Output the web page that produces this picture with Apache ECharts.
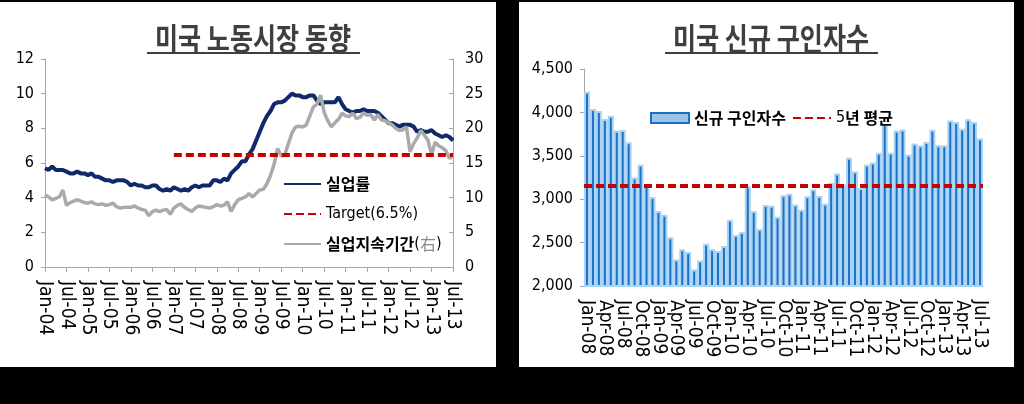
<!DOCTYPE html>
<html>
<head>
<meta charset="utf-8">
<script src="https://cdn.jsdelivr.net/npm/echarts@6/dist/echarts.min.js"></script>
<style>
html,body{margin:0;padding:0;background:#000;width:1024px;height:404px;overflow:hidden;}
#c1{position:absolute;left:0;top:2px;width:496px;height:365px;background:#fff;}
#c2{position:absolute;left:519px;top:2px;width:495px;height:365px;background:#fff;}
</style>
</head>
<body>
<div id="c1"></div>
<div id="c2"></div>
<script>
// ---------- data: left chart (monthly, Jan-04 .. Jul-13) ----------
const monthNames = ['Jan','Feb','Mar','Apr','May','Jun','Jul','Aug','Sep','Oct','Nov','Dec'];
const leftYears = ['04','05','06','07','08','09','10','11','12','13'];
const leftMonthsInLastYear = 7;
const unempRate = [
  5.7,5.6,5.8,5.6,5.6,5.6,5.5,5.4,5.4,5.5,5.4,5.4,
  5.3,5.4,5.2,5.2,5.1,5.0,5.0,4.9,5.0,5.0,5.0,4.9,
  4.7,4.8,4.7,4.7,4.6,4.6,4.7,4.7,4.5,4.4,4.5,4.4,
  4.6,4.5,4.4,4.5,4.4,4.6,4.7,4.6,4.7,4.7,4.7,5.0,
  5.0,4.9,5.1,5.0,5.4,5.6,5.8,6.1,6.1,6.5,6.8,7.3,
  7.8,8.3,8.7,9.0,9.4,9.5,9.5,9.6,9.8,10.0,9.9,9.9,
  9.8,9.8,9.9,9.9,9.6,9.4,9.5,9.5,9.5,9.5,9.8,9.4,
  9.1,9.0,8.9,9.0,9.0,9.1,9.0,9.0,9.0,8.9,8.7,8.5,
  8.3,8.3,8.2,8.1,8.2,8.2,8.2,8.1,7.8,7.9,7.8,7.8,
  7.9,7.7,7.6,7.5,7.6,7.5,7.3
];
const unempDuration = [
  10.4,10.1,9.7,9.9,10.1,11.1,8.9,9.3,9.5,9.7,9.5,9.3,
  9.2,9.4,9.1,9.0,9.1,8.9,9.0,9.2,8.7,8.5,8.6,8.6,
  8.6,8.8,8.5,8.3,8.2,7.4,8.0,8.2,8.0,8.2,8.3,7.6,
  8.5,8.9,9.1,8.6,8.3,8.0,8.5,8.8,8.7,8.6,8.5,8.7,
  9.0,8.8,8.9,9.4,8.0,9.0,9.7,9.9,10.1,10.6,10.1,10.6,
  11.1,11.2,12.0,13.2,14.8,17.1,16.0,16.2,17.8,19.3,20.2,20.3,
  20.2,20.5,21.8,23.1,23.5,24.8,22.3,21.1,20.2,20.8,21.3,22.2,
  21.8,21.7,22.2,21.4,21.6,22.2,21.9,22.0,21.2,22.0,21.2,21.1,
  20.8,20.5,20.0,19.7,19.8,20.2,16.6,17.8,18.6,19.7,19.0,18.3,
  16.2,18.0,17.5,17.2,16.8,15.7,16.0
];
const targetRate = 6.5;
const targetFrom = 'Jan-07';
const leftYTicks = {min:0, max:12, interval:2};
const rightYTicks = {min:0, max:30, interval:5};

// ---------- data: right chart (monthly, Jan-08 .. Jul-13) ----------
const rightYears = ['08','09','10','11','12','13'];
const rightMonthsInLastYear = 7;
const jobOpenings = [
  4237,4039,4016,3923,3962,3788,3796,3656,3250,3397,3160,3026,
  2863,2820,2561,2306,2422,2391,2190,2294,2488,2422,2402,2461,
  2762,2588,2623,3150,2863,2658,2933,2925,2797,3045,3064,2940,
  2878,3033,3115,3037,2948,3188,3296,3170,3478,3320,3130,3397,
  3424,3536,3865,3536,3788,3803,3513,3641,3618,3660,3800,3622,
  3622,3908,3889,3811,3920,3889,3699
];
const fiveYearAvg = 3160;
const barYTicks = {min:2000, max:4500, interval:500};

function makeMonths(years, lastCount){
  const out = [];
  years.forEach((y, yi) => {
    const n = (yi === years.length - 1) ? lastCount : 12;
    for (let m = 0; m < n; m++) out.push(monthNames[m] + '-' + y);
  });
  return out;
}
const leftCats = makeMonths(leftYears, leftMonthsInLastYear);
const rightCats = makeMonths(rightYears, rightMonthsInLastYear);

// ---------- styling ----------
const NARROW = "'Liberation Sans Narrow','DejaVu Sans Condensed','Noto Sans CJK KR',sans-serif";
const KR = "'Noto Sans CJK KR',sans-serif";
const AX = '#A6A6A6';
const NAVY = '#10296B';
const GRAY = '#AAAAAA';
const RED = '#C80000';
const BLUE = '#1B70C4';

function titleGraphic(text, cx){
  return [
    {type:'text', x:cx, y:36, scaleX:0.81, z:10,
     style:{text:text, fill:'#3F3F3F', font:'bold 31px ' + KR, textAlign:'center', textVerticalAlign:'middle'}},
    {type:'line', z:10, shape:{x1:cx-106, y1:51, x2:cx+107, y2:51}, style:{stroke:'#3F3F3F', lineWidth:2}}
  ];
}

const legendRich = {
  k:{fontFamily:KR, fontSize:16, color:'#000', fontWeight:'bold', lineHeight:20},
  l:{fontFamily:NARROW, fontSize:16, color:'#000', lineHeight:20},
  g:{fontFamily:KR, fontSize:16, color:'#888', lineHeight:20}
};

// every category gets a label slot; only every `step`-th one carries text
function xLabel(step){
  return {interval:0, rotate:-90, margin:14, hideOverlap:false,
    showMinLabel:true, showMaxLabel:true,
    formatter:function(v, i){return (i % step === 0) ? '{a|' + v + '}' : '';},
    rich:{a:{fontFamily:NARROW, fontSize:19, color:'#000', lineHeight:12}}};
}
const yLabel = {fontFamily:NARROW, fontSize:16, color:'#000'};

// ---------- left chart ----------
const chart1 = echarts.init(document.getElementById('c1'), null, {renderer:'canvas'});
chart1.setOption({
  animation:false,
  backgroundColor:'#fff',
  graphic: titleGraphic('미국 노동시장 동향', 253),
  grid:{left:45, right:43, top:57, bottom:100},
  legend:{
    orient:'vertical', left:278, top:169, itemWidth:37, itemHeight:14, itemGap:14,
    textStyle:{rich:legendRich},
    formatter: function(name){
      if (name === '실업률') return '{k|실업률}';
      if (name.indexOf('Target') === 0) return '{l|' + name + '}';
      return '{k|실업지속기간}{l|(}{g|右}{l|)}';
    },
    data:[
      {name:'실업률', itemStyle:{opacity:0}},
      {name:'Target(6.5%)', itemStyle:{opacity:0}},
      {name:'실업지속기간(右)', itemStyle:{opacity:0}}
    ]
  },
  xAxis:{
    type:'category', data:leftCats, boundaryGap:false,
    axisLine:{lineStyle:{color:AX, width:1}},
    axisTick:{interval:5, length:5, lineStyle:{color:AX}},
    axisLabel:xLabel(6)
  },
  yAxis:[
    {type:'value', min:leftYTicks.min, max:leftYTicks.max, interval:leftYTicks.interval,
     splitLine:{show:false},
     axisLine:{show:true, lineStyle:{color:AX}},
     axisTick:{show:true, length:4, lineStyle:{color:AX}},
     axisLabel:Object.assign({margin:11}, yLabel)},
    {type:'value', position:'right', min:rightYTicks.min, max:rightYTicks.max, interval:rightYTicks.interval,
     splitLine:{show:false},
     axisLine:{show:true, lineStyle:{color:AX}},
     axisTick:{show:true, inside:true, length:4, lineStyle:{color:AX}},
     axisLabel:Object.assign({margin:12}, yLabel)}
  ],
  series:[
    {name:'실업률', type:'line', data:unempRate, yAxisIndex:0, symbol:'none',
     lineStyle:{color:NAVY, width:4}, itemStyle:{color:NAVY}},
    {name:'Target(6.5%)', type:'line', data:[], yAxisIndex:0, symbol:'none',
     lineStyle:{color:RED, width:4, type:[8,4]}, itemStyle:{color:RED},
     markLine:{silent:true, symbol:['none','none'], label:{show:false},
       lineStyle:{color:RED, width:4, type:[8,4]},
       data:[[{coord:[targetFrom, targetRate]}, {coord:[leftCats[leftCats.length-1], targetRate]}]]}},
    {name:'실업지속기간(右)', type:'line', data:unempDuration, yAxisIndex:1, symbol:'none',
     lineStyle:{color:GRAY, width:3.5}, itemStyle:{color:GRAY}}
  ]
});

// ---------- right chart ----------
const chart2 = echarts.init(document.getElementById('c2'), null, {renderer:'canvas'});
chart2.setOption({
  animation:false,
  backgroundColor:'#fff',
  graphic: titleGraphic('미국 신규 구인자수', 252),
  grid:{left:65, right:31, top:67, bottom:81},
  legend:{
    orient:'horizontal', left:126, top:103, itemWidth:38, itemHeight:10, itemGap:6,
    textStyle:{rich:legendRich},
    formatter: function(name){
      if (name === '5년 평균') return '{l|5}{k|년 평균}';
      return '{k|' + name + '}';
    },
    data:[
      {name:'신규 구인자수', icon:'rect', itemStyle:{color:'#9DC3E6', borderColor:BLUE, borderWidth:2}},
      {name:'5년 평균', itemStyle:{opacity:0}}
    ]
  },
  xAxis:{
    type:'category', data:rightCats, boundaryGap:true,
    axisLine:{lineStyle:{color:AX}},
    axisTick:{interval:0, length:4, lineStyle:{color:AX}},
    axisLabel:xLabel(3)
  },
  yAxis:{
    type:'value', min:barYTicks.min, max:barYTicks.max, interval:barYTicks.interval,
    splitLine:{show:false},
    axisLine:{show:true, lineStyle:{color:AX}},
    axisTick:{show:true, length:4, lineStyle:{color:AX}},
    axisLabel:Object.assign({margin:11, formatter:function(v){return v.toLocaleString('en-US');}}, yLabel)
  },
  series:[
    {name:'신규 구인자수', type:'bar', data:jobOpenings, barCategoryGap:'0%',
     itemStyle:{color:BLUE, borderColor:'#A9D3F5', borderWidth:2}},
    {name:'5년 평균', type:'line', data:[], symbol:'none',
     lineStyle:{color:RED, width:4, type:[8,4]}, itemStyle:{color:RED},
     markLine:{silent:true, symbol:['none','none'], label:{show:false},
       lineStyle:{color:RED, width:4, type:[8,4]},
       data:[{yAxis:fiveYearAvg}]}}
  ]
});
</script>
</body>
</html>
